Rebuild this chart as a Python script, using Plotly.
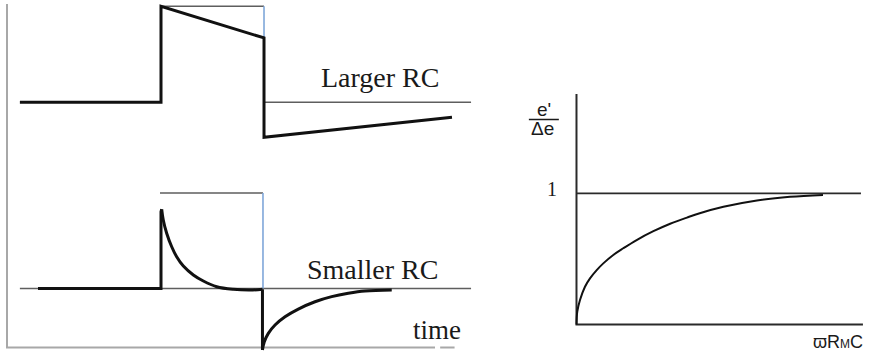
import plotly.graph_objects as go

# ---------------------------------------------------------------
# Left panel: response of an RC-coupled recording to a square step.
# Time is in units of the pulse width (onset at 0, offset at 1);
# amplitude is in units of the input step.
# ---------------------------------------------------------------
TOP_BASE = 1.94  # vertical offset of the "Larger RC" trace

# reference square pulse (input), larger-RC row
ref_top_pulse_t = [0.0, 1.0]
ref_top_pulse_v = [1.0, 1.0]
ref_top_edge_t = [1.0, 1.0]
ref_top_edge_v = [1.0, 0.0]
ref_top_base_t = [1.0, 3.01]
ref_top_base_v = [0.0, 0.0]

# recorded trace, larger RC (slow droop)
large_t = [-1.37, 0.0, 0.0, 1.0, 1.0, 2.825]
large_v = [0.0, 0.0, 1.0, 0.67, -0.365, -0.156]

# reference square pulse (input), smaller-RC row
ref_bot_pulse_t = [-0.01, 0.99]
ref_bot_pulse_v = [0.995, 0.995]
ref_bot_edge_t = [0.99, 0.99]
ref_bot_edge_v = [0.995, 0.0]
ref_bot_base_t = [-1.37, 3.01]
ref_bot_base_v = [0.0, 0.0]

# recorded trace, smaller RC (fast decay)
small_step_t = [-1.194, 0.0, 0.0, 0.007]
small_step_v = [0.0, 0.0, 0.80, 0.825]
small_decay_t = [0.007, 0.022, 0.055, 0.104, 0.152, 0.217, 0.314, 0.411,
                 0.541, 0.702, 0.864, 0.985]
small_decay_v = [0.825, 0.714, 0.576, 0.435, 0.331, 0.234, 0.141, 0.078,
                 0.019, -0.008, -0.016, -0.008]
small_drop_t = [0.985, 0.985]
small_drop_v = [-0.008, -0.64]
small_recov_t = [0.985, 1.003, 1.042, 1.107, 1.204, 1.333, 1.495, 1.657,
                 1.818, 1.981, 2.240]
small_recov_v = [-0.64, -0.554, -0.467, -0.380, -0.294, -0.214, -0.138,
                 -0.085, -0.050, -0.026, -0.016]

# frame of the left panel (amplitude axis and time axis)
frame_t = [-1.495, -1.495, 2.66]
frame_v = [2.964, -0.615, -0.615]
frame_dash_t = [2.71, 2.85]
frame_dash_v = [-0.615, -0.615]

# ---------------------------------------------------------------
# Right panel: e'/Δe versus ϖ·R_M·C
# ---------------------------------------------------------------
wrc = [0.0, 0.016, 0.071, 0.172, 0.274, 0.41, 0.544, 0.746, 0.949, 1.22,
       1.56, 1.90, 2.24, 2.50, 2.98, 3.66, 4.33, 5.0]
ratio = [0.0, 0.098, 0.187, 0.288, 0.352, 0.415, 0.466, 0.530, 0.581,
         0.644, 0.711, 0.768, 0.815, 0.848, 0.897, 0.945, 0.973, 0.987]
unity_x = [0.0, 5.77]
unity_y = [1.0, 1.0]
axes_x = [0.0, 0.0, 5.81]
axes_y = [1.757, 0.0, 0.0]

BLACK = "#111111"
GRAY = "#5e5e5e"
BLUE = "#7fa7d9"
FRAME = "#a8a8a8"
SERIF = "Liberation Serif, Times New Roman, serif"
SANS = "Liberation Sans, Arial, sans-serif"

fig = go.Figure()


def add_line(x, y, color, width, shape="linear", offset=0.0, axis=1):
    fig.add_trace(go.Scatter(
        x=x, y=[v + offset for v in y], mode="lines",
        line=dict(color=color, width=width, shape=shape, smoothing=1.0),
        xaxis="x" if axis == 1 else "x2",
        yaxis="y" if axis == 1 else "y2",
        hoverinfo="skip", showlegend=False,
    ))


# left frame
add_line(frame_t, frame_v, FRAME, 2)
add_line(frame_dash_t, frame_dash_v, FRAME, 2)

# larger RC row
add_line(ref_top_pulse_t, ref_top_pulse_v, GRAY, 1.6, offset=TOP_BASE)
add_line(ref_top_base_t, ref_top_base_v, GRAY, 1.6, offset=TOP_BASE)
add_line(ref_top_edge_t, ref_top_edge_v, BLUE, 1.6, offset=TOP_BASE)
add_line(large_t, large_v, BLACK, 3, offset=TOP_BASE)

# smaller RC row
add_line(ref_bot_pulse_t, ref_bot_pulse_v, GRAY, 1.6)
add_line(ref_bot_base_t, ref_bot_base_v, GRAY, 1.6)
add_line(ref_bot_edge_t, ref_bot_edge_v, BLUE, 1.6)
add_line(small_step_t, small_step_v, BLACK, 3)
add_line(small_decay_t, small_decay_v, BLACK, 3, shape="spline")
add_line(small_drop_t, small_drop_v, BLACK, 3)
add_line(small_recov_t, small_recov_v, BLACK, 3, shape="spline")

# right panel
add_line(axes_x, axes_y, "#2a2a2a", 2, axis=2)
add_line(unity_x, unity_y, "#2a2a2a", 1.8, axis=2)
add_line(wrc, ratio, BLACK, 2, shape="spline", axis=2)

annotations = [
    dict(x=2.126, y=2.203, xref="x", yref="y", text="Larger RC",
         font=dict(family=SERIF, size=28, color="#1a1a1a")),
    dict(x=2.049, y=0.203, xref="x", yref="y", text="Smaller RC",
         font=dict(family=SERIF, size=28, color="#1a1a1a")),
    dict(x=2.684, y=-0.432, xref="x", yref="y", text="time",
         font=dict(family=SERIF, size=27, color="#1a1a1a")),
    dict(x=-0.49, y=1.03, xref="x2", yref="y2", text="1",
         font=dict(family=SERIF, size=20, color="#1a1a1a")),
    dict(x=-0.65, y=1.64, xref="x2", yref="y2", text="e'",
         font=dict(family=SANS, size=19, color="#1a1a1a")),
    dict(x=-0.68, y=1.49, xref="x2", yref="y2", text="Δe",
         font=dict(family=SANS, size=19, color="#1a1a1a")),
    dict(x=5.30, y=-0.13, xref="x2", yref="y2",
         text="ϖR<span style='font-size:12px'>M</span>C",
         font=dict(family=SANS, size=18, color="#1a1a1a")),
]
for a in annotations:
    a.update(showarrow=False, xanchor="center", yanchor="middle")

# fraction bar of e'/Δe
fig.add_trace(go.Scatter(
    x=[-0.966, -0.358], y=[1.563, 1.563], mode="lines",
    line=dict(color="#1a1a1a", width=1.5), xaxis="x2", yaxis="y2",
    hoverinfo="skip", showlegend=False,
))

hidden = dict(visible=False, fixedrange=True)
fig.update_layout(
    width=872, height=361,
    margin=dict(l=0, r=0, t=0, b=0),
    paper_bgcolor="white", plot_bgcolor="white",
    showlegend=False, hovermode=False,
    xaxis=dict(domain=[0, 0.55], range=[-1.563, 3.093], **hidden),
    yaxis=dict(domain=[0, 1], range=[-0.755, 3.005], **hidden),
    xaxis2=dict(domain=[0.6, 1.0], range=[-1.081, 5.994], anchor="y2", **hidden),
    yaxis2=dict(domain=[0, 1], range=[-0.278, 2.473], anchor="x2", **hidden),
    annotations=annotations,
)

fig.write_html("out.html", config=dict(displayModeBar=False))
